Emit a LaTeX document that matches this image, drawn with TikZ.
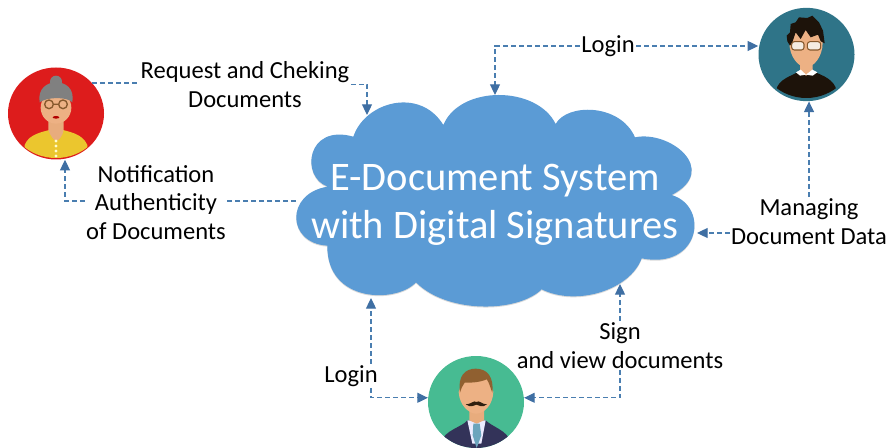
\documentclass[tikz,border=0pt]{standalone}
\usepackage{fontspec}
\setmainfont{Carlito}
\usetikzlibrary{arrows.meta,shapes.geometric}
\definecolor{cloudblue}{HTML}{5B9BD5}
\definecolor{linkblue}{HTML}{4A7EB0}
\definecolor{tipblue}{HTML}{3F6FA3}
\definecolor{skin}{HTML}{EDB184}
\definecolor{ladyyellow}{HTML}{EBC62E}
\definecolor{ladyred}{HTML}{DD1C1C}
\definecolor{managerteal}{HTML}{2F7488}
\definecolor{clerkgreen}{HTML}{47BB92}
\newcommand{\cloudpath}{(190,170) .. controls (225,65) and (390,20) .. (460,135)
	.. controls (510,15) and (740,16) .. (797,132)
	.. controls (830,70) and (990,69) .. (1035,172)
	.. controls (1140,150) and (1290,270) .. (1145,345)
	.. controls (1260,380) and (1230,570) .. (1055,535)
	.. controls (1020,630) and (860,680) .. (755,628)
	.. controls (680,700) and (470,700) .. (378,607)
	.. controls (320,670) and (110,670) .. (112,497)
	.. controls (-10,490) and (-15,340) .. (113,320)
	.. controls (30,290) and (50,130) .. (190,170) -- cycle}
\tikzset{
	person/.style = {ellipse, inner sep=0pt, minimum width=72pt, minimum height=69pt},
	lbl/.style = {align=center, inner sep=1pt, font=\fontsize{18.4}{21.4}\selectfont},
	link/.style = {draw=linkblue, line width=0.9pt, dash pattern=on 3.6pt off 2.4pt},
	tip/.style = {link, -{Triangle[length=8pt,width=7.5pt,color=tipblue,sep=0pt]}},
	zoomed/.style = {x=0.25pt, y=-0.25pt}
}
\begin{document}
\begin{tikzpicture}[x=0.75pt,y=-0.75pt]
	\useasboundingbox (0,0) rectangle (887,448);
	% cloud
	\begin{scope}[shift={(290,81)},zoomed]
		\fill[black!15] \cloudpath;
	\end{scope}
	\begin{scope}[shift={(290,80)},zoomed]
		\fill[cloudblue] \cloudpath;
	\end{scope}
	\node[align=center, text=white, font=\fontsize{30.4}{36}\selectfont] (system) at (495,205) {E-Document System\\with Digital Signatures};
	\coordinate (cloudtl) at (367,115);
	\coordinate (cloudl) at (296,201);
	\coordinate (cloudtop) at (495,95);
	\coordinate (cloudr) at (697,233);
	\coordinate (cloudbl) at (371,298);
	\coordinate (cloudbr) at (620,284);
	% people
	\node[person, fill=ladyred] (lady) at (56,113.5) {};
	\node[person, fill=managerteal, minimum height=70pt] (manager) at (806.5,54.5) {};
	\node[person, fill=clerkgreen] (clerk) at (476,402) {};
	\begin{scope}[shift={(4,65)},zoomed]
		\clip (156,146) ellipse [x radius=144, y radius=133];
		\fill[ladyyellow] (62,240) .. controls (75,205) and (120,200) .. (156,190) .. controls (195,200) and (235,205) .. (250,240) -- (250,300) -- (62,300) -- cycle;
		\fill[skin!90!brown] (133,150) -- (133,195) .. controls (140,215) and (150,225) .. (156,228) .. controls (165,225) and (175,215) .. (179,195) -- (179,150) -- cycle;
		\fill[skin] (156,128) ellipse [x radius=46, y radius=48];
		\fill[gray] (156,50) circle (18);
		\fill[gray] (107,112) .. controls (100,70) and (130,52) .. (156,52) .. controls (185,52) and (212,70) .. (205,112) .. controls (190,95) and (130,95) .. (107,112) -- cycle;
		\draw[brown!70!black, line width=1pt] (135,118) circle (13) (177,118) circle (13) (148,118) -- (164,118);
		\fill[red!70!black] (156,157) ellipse [x radius=10, y radius=4];
		\foreach \yy in {228,243,258,273}
			\fill[yellow!20] (156,\yy) circle (5);
	\end{scope}
	\begin{scope}[shift={(754,4)},zoomed]
		\clip (157,142) ellipse [x radius=145, y radius=140];
		\fill[black!85!brown] (66,260) .. controls (72,225) and (115,215) .. (130,205) -- (185,205) .. controls (205,215) and (240,225) .. (248,260) -- (248,300) -- (66,300) -- cycle;
		\fill[skin] (138,170) -- (138,205) -- (156,215) -- (176,205) -- (176,170) -- cycle;
		\fill[white] (126,205) -- (140,197) -- (156,212) -- (175,197) -- (190,205) -- (176,215) -- (156,212) -- (138,215) -- cycle;
		\fill[skin] (106,115) .. controls (106,160) and (135,190) .. (156,190) .. controls (178,190) and (206,160) .. (206,115) -- (190,70) -- (120,70) -- cycle;
		\fill[black!85!brown] (100,112) -- (98,95) -- (108,85) -- (110,60) -- (125,55) -- (135,40) -- (160,42) -- (175,35) -- (195,55) -- (207,80) -- (212,118) -- (200,112) -- (192,92) -- (170,100) -- (155,78) -- (140,105) -- (125,85) -- (115,115) -- (108,125) -- cycle;
		\draw[brown!70!black, line width=0.8pt, fill=white!85!brown, rounded corners=2pt] (113,113) rectangle (150,138) (160,113) rectangle (200,138);
	\end{scope}
	\begin{scope}[shift={(424,352)},zoomed]
		\clip (156,150) ellipse [x radius=144, y radius=138];
		\fill[black!75!blue!60!gray] (52,270) .. controls (60,235) and (115,225) .. (130,205) -- (185,205) .. controls (205,225) and (250,235) .. (260,270) -- (260,300) -- (52,300) -- cycle;
		\fill[blue!8!white] (130,205) -- (185,205) -- (172,275) -- (145,275) -- cycle;
		\fill[skin!90!brown] (136,170) -- (136,205) -- (158,215) -- (180,205) -- (180,170) -- cycle;
		\fill[cyan!45!gray] (148,215) -- (167,215) -- (172,250) -- (158,288) -- (146,250) -- cycle;
		\fill[skin] (104,120) .. controls (106,160) and (135,185) .. (156,185) .. controls (180,185) and (206,160) .. (208,120) -- (190,70) -- (120,70) -- cycle;
		\fill[brown!75!black] (108,122) .. controls (100,70) and (125,50) .. (155,50) .. controls (190,50) and (210,75) .. (205,122) .. controls (198,105) and (195,90) .. (188,82) .. controls (165,92) and (140,92) .. (122,92) .. controls (115,100) and (112,110) .. (108,122) -- cycle;
		\fill[black!75!brown] (125,157) .. controls (140,158) and (150,143) .. (157,150) .. controls (165,143) and (175,158) .. (189,157) .. controls (175,168) and (165,160) .. (157,158) .. controls (150,160) and (140,168) .. (125,157) -- cycle;
	\end{scope}
	% labels
	\node[lbl] (request) at (245,84.5) {Request and Cheking\\Documents};
	\node[lbl] (notify) at (156,202.5) {Notification\\Authenticity\\of Documents};
	\node[lbl] (logintop) at (608,46) {Login};
	\node[lbl] (managing) at (809,221.5) {Managing\\Document Data};
	\node[lbl] (loginbot) at (351,376) {Login};
	\node[lbl] (sign) at (620,345.5) {Sign\\and view documents};
	% connectors
	\draw[link] (lady.40) -- (lady.40 -| request.west);
	\draw[tip] (request.east) -| (cloudtl);
	\draw[link] (cloudl) -- (cloudl -| notify.east);
	\draw[tip] (cloudl -| notify.west) -| (lady.south -| 65,0);
	\draw[tip] (logintop.west) -| (cloudtop);
	\draw[tip] (logintop.east) -- (logintop.east -| manager.west);
	\draw[tip] (managing.north) -- (managing.north |- manager.south);
	\draw[tip] (managing.west |- cloudr) -- (cloudr);
	\draw[tip] (loginbot.north -| cloudbl) -- (cloudbl);
	\draw[tip] (loginbot.south -| cloudbl) |- (clerk.175);
	\draw[tip] (sign.north -| cloudbr) -- (cloudbr);
	\draw[tip] (sign.south -| cloudbr) |- (clerk.5);
\end{tikzpicture}
\end{document}
